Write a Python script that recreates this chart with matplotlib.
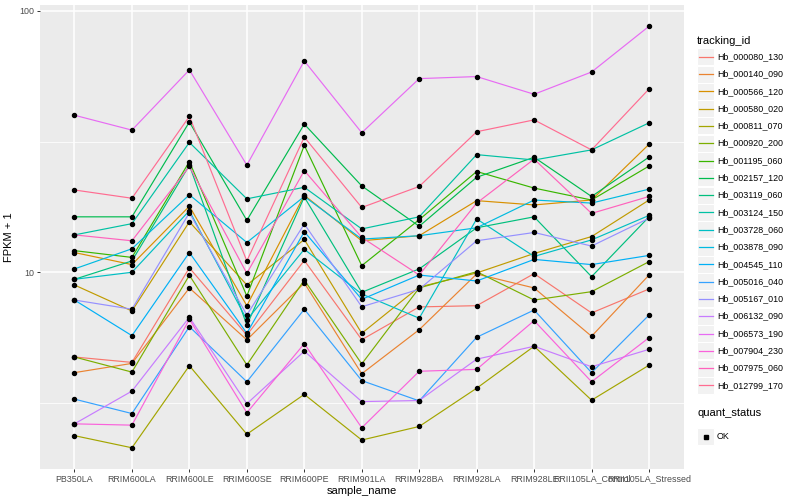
import matplotlib
matplotlib.use("Agg")
import matplotlib.pyplot as plt
from matplotlib.patches import Rectangle
from matplotlib.ticker import FixedLocator, NullFormatter

plt.rcParams['font.family'] = ['Liberation Sans', 'DejaVu Sans']

samples = ["PB350LA", "RRIM600LA", "RRIM600LE", "RRIM600SE", "RRIM600PE", "RRIM901LA",
           "RRIM928BA", "RRIM928LA", "RRIM928LE", "RRII105LA_Control", "RRII105LA_Stressed"]

tracking_ids = ["Hb_000080_130", "Hb_000140_090", "Hb_000566_120", "Hb_000580_020",
                "Hb_000811_070", "Hb_000920_200", "Hb_001195_060", "Hb_002157_120",
                "Hb_003119_060", "Hb_003124_150", "Hb_003728_060", "Hb_003878_090",
                "Hb_004545_110", "Hb_005016_040", "Hb_005167_010", "Hb_006132_090",
                "Hb_006573_190", "Hb_007904_230", "Hb_007975_060", "Hb_012799_170"]

colors = ["#F8766D", "#EA8331", "#D89000", "#C09B00", "#A3A500", "#7CAE00", "#39B600",
          "#00BB4E", "#00BF7D", "#00C1A3", "#00BFC4", "#00BAE0", "#00B0F6", "#35A2FF",
          "#9590FF", "#C77CFF", "#E76BF3", "#FA62DB", "#FF62BC", "#FF6C91"]

# FPKM + 1 values per gene, in sample order
Hb_000080_130 = [4.74, 4.52, 10.4, 5.75, 11.1, 5.52, 7.37, 7.45, 9.88, 6.99, 8.63]
Hb_000140_090 = [4.13, 4.48, 8.71, 5.51, 9.10, 4.09, 6.03, 9.85, 8.71, 5.69, 9.76]
Hb_000566_120 = [11.9, 10.7, 17.9, 7.45, 19.7, 13.2, 13.8, 18.8, 18.1, 18.9, 30.9]
Hb_000580_020 = [8.94, 7.11, 15.6, 8.94, 13.35, 5.84, 8.78, 9.94, 11.8, 13.7, 18.9]
Hb_000811_070 = [2.37, 2.13, 4.39, 2.40, 3.41, 2.28, 2.57, 3.60, 5.21, 3.24, 4.41]
Hb_000920_200 = [4.74, 4.15, 9.74, 4.42, 9.34, 4.46, 8.71, 10.05, 7.83, 8.43, 10.98]
Hb_001195_060 = [12.1, 11.4, 26.5, 8.11, 30.6, 10.6, 15.9, 24.3, 21.0, 18.9, 25.5]
Hb_002157_120 = [16.3, 16.3, 37.6, 15.8, 36.9, 21.4, 15.0, 23.1, 27.55, 19.5, 27.6]
Hb_003119_060 = [9.4, 11.05, 25.7, 6.28, 19.4, 8.38, 10.3, 14.8, 16.3, 9.62, 16.3]
Hb_003124_150 = [13.9, 15.35, 31.4, 19.1, 21.15, 14.65, 16.3, 28.2, 26.9, 29.4, 37.3]
Hb_003728_060 = [9.4, 10.0, 17.2, 6.57, 12.25, 8.26, 6.67, 16.0, 11.5, 13.3, 16.5]
Hb_003878_090 = [10.3, 12.3, 19.8, 13.0, 19.5, 13.4, 13.8, 14.8, 18.9, 18.4, 20.8]
Hb_004545_110 = [7.83, 5.72, 11.9, 5.84, 14.3, 7.88, 9.76, 9.26, 11.2, 10.7, 11.6]
Hb_005016_040 = [3.27, 2.88, 6.19, 3.81, 7.22, 3.85, 3.22, 5.64, 7.17, 4.13, 6.86]
Hb_005167_010 = [7.83, 7.22, 16.9, 6.86, 15.3, 7.38, 8.61, 13.2, 14.2, 12.6, 16.1]
Hb_006132_090 = [2.63, 3.51, 6.73, 3.14, 4.99, 3.20, 3.23, 4.65, 5.21, 4.35, 5.07]
Hb_006573_190 = [39.9, 35.0, 59.5, 25.7, 64.4, 34.2, 55.1, 56.1, 48.0, 58.4, 87.4]
Hb_007904_230 = [2.63, 2.60, 6.61, 2.90, 5.33, 2.54, 4.18, 4.25, 6.53, 3.81, 5.62]
Hb_007975_060 = [13.9, 13.2, 25.4, 9.9, 24.5, 13.6, 9.76, 18.4, 27.1, 16.8, 19.5]
Hb_012799_170 = [20.65, 19.2, 39.5, 11.05, 32.9, 17.7, 21.3, 34.5, 38.3, 29.4, 50.3]

series = [Hb_000080_130, Hb_000140_090, Hb_000566_120, Hb_000580_020, Hb_000811_070,
          Hb_000920_200, Hb_001195_060, Hb_002157_120, Hb_003119_060, Hb_003124_150,
          Hb_003728_060, Hb_003878_090, Hb_004545_110, Hb_005016_040, Hb_005167_010,
          Hb_006132_090, Hb_006573_190, Hb_007904_230, Hb_007975_060, Hb_012799_170]

W, H = 800, 500
fig = plt.figure(figsize=(W / 100, H / 100), dpi=100)
fig.patch.set_facecolor('white')

px_l, px_r, px_t, px_b = 40, 683.5, 5, 469.3
ax = fig.add_axes([px_l / W, 1 - px_b / H, (px_r - px_l) / W, (px_b - px_t) / H])
ax.set_facecolor('#EBEBEB')
ax.set_yscale('log')
ax.set_ylim(1.762, 105.4)
ax.set_xlim(-0.6, len(samples) - 1 + 0.6)
for s in ax.spines.values():
    s.set_visible(False)

x = list(range(len(samples)))
ax.set_xticks(x)
ax.set_xticklabels(samples)
ax.set_yticks([10, 100])
ax.set_yticklabels(["10", "100"])
ax.yaxis.set_minor_locator(FixedLocator([10 ** 0.5, 10 ** 1.5]))
ax.yaxis.set_minor_formatter(NullFormatter())
ax.xaxis.set_minor_locator(FixedLocator([]))
ax.grid(which='major', color='white', linewidth=1.1, zorder=0)
ax.grid(which='minor', axis='y', color='white', linewidth=0.55, zorder=0)
ax.set_axisbelow(True)
ax.tick_params(which='major', length=2.2, width=0.7, color='#333333',
               labelsize=6.4, labelcolor='#4D4D4D', pad=1.6)
ax.tick_params(which='minor', length=0)

for vals, c in zip(series, colors):
    ax.plot(x, vals, color=c, linewidth=0.85, zorder=2, solid_capstyle='butt')
for vals in series:
    ax.plot(x, vals, linestyle='none', marker='o', markersize=2.9,
            color='black', zorder=3)

ax.set_xlabel('sample_name', fontsize=8, color='black', labelpad=2)
ax.set_ylabel('FPKM + 1', fontsize=8, color='black', labelpad=4)

# legend drawn in pixel coordinates
lax = fig.add_axes([0, 0, 1, 1], facecolor='none')
lax.set_xlim(0, W)
lax.set_ylim(H, 0)
lax.axis('off')

lax.text(697, 40.5, 'tracking_id', fontsize=8, va='center', ha='left', color='black')
row0, step = 56.7, 17.3
ks = 17.0
for i, (name, c) in enumerate(zip(tracking_ids, colors)):
    yc = row0 + step * i
    lax.add_patch(Rectangle((697, yc - ks / 2), ks, ks, facecolor='#F2F2F2',
                            edgecolor='white', linewidth=0.8))
    lax.plot([698.5, 712.5], [yc, yc], color=c, linewidth=0.9)
    lax.text(717, yc, name, fontsize=6.4, va='center', ha='left', color='black')

lax.text(697, 412.5, 'quant_status', fontsize=8, va='center', ha='left', color='black')
yok = 436.7
lax.add_patch(Rectangle((697, yok - ks / 2), ks, ks, facecolor='#F2F2F2',
                        edgecolor='white', linewidth=0.8))
lax.plot([705.5], [yok], marker='s', markersize=2.6, color='black', linestyle='none')
lax.text(717, yok, 'OK', fontsize=6.4, va='center', ha='left', color='black')

fig.savefig('out.png', dpi=100)
